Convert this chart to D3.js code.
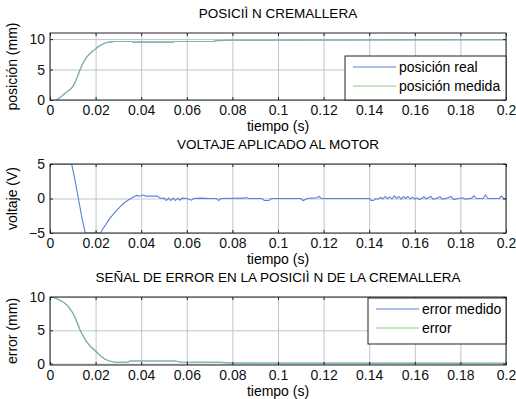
<!DOCTYPE html>
<html>
<head>
<meta charset="utf-8">
<script src="https://cdn.jsdelivr.net/npm/d3@7"></script>
<style>
  body { margin: 0; background: #fff; }
  svg { font-family: "Liberation Sans", Arial, sans-serif; }
  .grid line { stroke: #bcc6ce; stroke-width: 1; }
  .grid path { display: none; }
  .ax path { display: none; }
  .ax line { stroke: #222; }
  .ax text { font-size: 14px; fill: #111; }
</style>
</head>
<body>
<svg width="516" height="399"></svg>
<script>
// time axis
const xTicks = [0, 0.02, 0.04, 0.06, 0.08, 0.1, 0.12, 0.14, 0.16, 0.18, 0.2];

// posicion (mm)
const posT = [0, 0.001, 0.002, 0.003, 0.004, 0.005, 0.006, 0.007, 0.008, 0.009, 0.010,
  0.011, 0.012, 0.013, 0.014, 0.015, 0.016, 0.017, 0.018, 0.019, 0.020, 0.021, 0.022,
  0.023, 0.024, 0.025, 0.026, 0.027, 0.028, 0.036, 0.0365, 0.054, 0.0545, 0.072, 0.0725,
  0.08, 0.14, 0.2];
const posReal = [0, -0.2, -0.2, 0.0, 0.3, 0.6, 0.9, 1.2, 1.5, 1.8, 2.2,
  2.9, 3.8, 4.8, 5.7, 6.4, 7.0, 7.4, 7.8, 8.1, 8.4, 8.7, 8.95,
  9.15, 9.3, 9.45, 9.5, 9.55, 9.6, 9.6, 9.5, 9.5, 9.6, 9.6, 9.75,
  9.8, 9.85, 9.9];
const posMedida = [0, -0.2, -0.2, 0.0, 0.3, 0.6, 0.9, 1.2, 1.5, 1.8, 2.2,
  2.9, 3.8, 4.8, 5.7, 6.4, 7.0, 7.4, 7.8, 8.1, 8.4, 8.7, 8.95,
  9.15, 9.3, 9.45, 9.5, 9.55, 9.6, 9.6, 9.5, 9.5, 9.6, 9.6, 9.75,
  9.8, 9.85, 9.9];

// voltaje (V)
const voltT = [0, 0.0095, 0.010, 0.011, 0.012, 0.013, 0.014, 0.015, 0.0155, 0.0222,
  0.023, 0.024, 0.025, 0.026, 0.027, 0.028, 0.029, 0.030, 0.031, 0.032, 0.033, 0.034,
  0.035, 0.036, 0.037, 0.038, 0.039, 0.040, 0.041, 0.042, 0.044, 0.047, 0.048, 0.049,
  0.050, 0.051, 0.052, 0.053, 0.054, 0.055, 0.056, 0.057, 0.058, 0.060, 0.062, 0.063,
  0.066, 0.070, 0.073, 0.074, 0.075, 0.085, 0.086, 0.087, 0.093, 0.094, 0.096, 0.097,
  0.110, 0.111, 0.113, 0.115, 0.117, 0.118, 0.119, 0.140, 0.141, 0.142, 0.143, 0.144,
  0.145, 0.146, 0.147, 0.148, 0.149, 0.150, 0.151, 0.152, 0.153, 0.154, 0.155, 0.156,
  0.157, 0.158, 0.159, 0.160, 0.161, 0.162, 0.163, 0.164, 0.165, 0.167, 0.168, 0.170,
  0.171, 0.172, 0.174, 0.176, 0.177, 0.179, 0.181, 0.182, 0.185, 0.186, 0.187, 0.190,
  0.191, 0.192, 0.197, 0.198, 0.199, 0.2];
const voltV = [5, 5, 4.2, 2.6, 0.8, -1.0, -2.8, -4.3, -5, -5,
  -4.5, -4.0, -3.5, -3.0, -2.6, -2.2, -1.8, -1.45, -1.1, -0.8, -0.55, -0.3,
  -0.1, 0.1, 0.3, 0.45, 0.35, 0.4, 0.5, 0.35, 0.35, 0.35, 0.1, 0.0,
  0.05, -0.3, 0.05, -0.3, 0.05, -0.3, 0.05, -0.25, 0.05, 0, -0.25, 0,
  0.05, 0, 0, -0.3, 0, 0.05, 0.15, 0, 0, -0.3, -0.3, 0,
  0, -0.3, 0, 0.05, 0.1, 0.3, 0, 0, -0.3, -0.25, 0, -0.1,
  0.15, -0.05, 0.3, 0, 0.2, -0.05, 0.4, 0.05, 0.3, -0.1, 0.3, 0,
  0.3, -0.05, 0.2, -0.1, 0.1, -0.15, 0, 0.25, -0.05, 0.3, -0.1, 0.05,
  0.3, -0.1, 0.05, 0.3, -0.15, 0, 0.1, -0.1, 0.05, 0.4, 0, 0,
  0.5, 0, 0, 0.35, 0, 0];

// error (mm)
const errT = [0, 0.002, 0.004, 0.006, 0.008, 0.010, 0.011, 0.012, 0.013, 0.014, 0.015,
  0.016, 0.018, 0.020, 0.022, 0.024, 0.026, 0.028, 0.030, 0.034, 0.035, 0.055, 0.057,
  0.075, 0.08, 0.2];
const errMedido = [10, 9.9, 9.6, 9.2, 8.6, 7.6, 6.9, 6.1, 5.2, 4.5, 3.9,
  3.3, 2.5, 1.9, 1.2, 0.7, 0.4, 0.25, 0.2, 0.2, 0.4, 0.4, 0.25,
  0.2, 0.1, 0.05];
const errReal = [10, 9.9, 9.6, 9.2, 8.6, 7.6, 6.9, 6.1, 5.2, 4.5, 3.9,
  3.3, 2.5, 1.9, 1.2, 0.7, 0.4, 0.25, 0.2, 0.2, 0.4, 0.4, 0.25,
  0.2, 0.1, 0.05];

const blue = "#5b7fd8", green = "#8cc98c";
const svg = d3.select("svg");
const x = d3.scaleLinear().domain([0, 0.2]).range([50, 506]);

function panel(cfg) {
  const y = d3.scaleLinear().domain(cfg.domain).range([cfg.bottom, cfg.top]);
  const g = svg.append("g");
  const h = cfg.bottom - cfg.top;

  // grid
  g.append("g").attr("class", "grid")
    .attr("transform", `translate(0,${cfg.bottom})`)
    .call(d3.axisBottom(x).tickValues(xTicks).tickSize(-h).tickFormat(""));
  g.append("g").attr("class", "grid")
    .attr("transform", "translate(50,0)")
    .call(d3.axisLeft(y).tickValues(cfg.yTicks).tickSize(-456).tickFormat(""));

  // series
  const clipId = "clip" + cfg.top;
  g.append("clipPath").attr("id", clipId).append("rect")
    .attr("x", 50).attr("y", cfg.top).attr("width", 456).attr("height", h);
  cfg.series.forEach(s => {
    const line = d3.line().x((d, i) => x(cfg.t[i])).y(d => y(d));
    g.append("path").datum(s.values)
      .attr("clip-path", `url(#${clipId})`)
      .attr("fill", "none").attr("stroke", s.color)
      .attr("stroke-width", 1.1).attr("opacity", s.opacity || 1)
      .attr("d", line);
  });

  // ticks inside on every side
  g.append("g").attr("class", "ax")
    .attr("transform", `translate(0,${cfg.bottom})`)
    .call(d3.axisBottom(x).tickValues(xTicks).tickSizeInner(-3).tickPadding(5)
      .tickFormat(d => d === 0 ? "0" : d3.format("")(+d.toFixed(2))));
  g.append("g").attr("class", "ax")
    .attr("transform", `translate(0,${cfg.top})`)
    .call(d3.axisTop(x).tickValues(xTicks).tickSizeInner(-3).tickFormat(""));
  g.append("g").attr("class", "ax")
    .attr("transform", "translate(50,0)")
    .call(d3.axisLeft(y).tickValues(cfg.yTicks).tickSizeInner(-3).tickPadding(5));
  g.append("g").attr("class", "ax")
    .attr("transform", "translate(506,0)")
    .call(d3.axisRight(y).tickValues(cfg.yTicks).tickSizeInner(-3).tickFormat(""));

  g.append("rect").attr("x", 50).attr("y", cfg.top).attr("width", 456).attr("height", h)
    .attr("fill", "none").attr("stroke", "#222").attr("stroke-width", 1);

  g.append("text").attr("x", 278).attr("y", cfg.top - 15)
    .attr("text-anchor", "middle").attr("font-size", 13.5).text(cfg.title);
  g.append("text").attr("x", 278).attr("y", cfg.bottom + 31)
    .attr("text-anchor", "middle").attr("font-size", 14).text("tiempo (s)");
  g.append("text")
    .attr("transform", `translate(17,${(cfg.top + cfg.bottom) / 2}) rotate(-90)`)
    .attr("text-anchor", "middle").attr("font-size", 14).text(cfg.ylabel);

  if (cfg.legend) {
    const L = cfg.legend;
    g.append("rect").attr("x", L.x).attr("y", L.y).attr("width", 506 - L.x).attr("height", L.h)
      .attr("fill", "#fff").attr("stroke", "#222");
    cfg.series.forEach((s, i) => {
      const yy = L.y + 11 + i * 19;
      g.append("line").attr("x1", L.x + 8).attr("x2", L.x + 51)
        .attr("y1", yy).attr("y2", yy).attr("stroke", s.color);
      g.append("text").attr("x", L.x + 54).attr("y", yy + 5)
        .attr("font-size", 14).text(s.name);
    });
  }
}

panel({
  title: "POSICIÌ N CREMALLERA", ylabel: "posición (mm)",
  top: 33, bottom: 100, domain: [0, 11], yTicks: [0, 5, 10], t: posT,
  series: [
    { name: "posición real", values: posReal, color: blue },
    { name: "posición medida", values: posMedida, color: green, opacity: 0.75 }
  ],
  legend: { x: 345, y: 56, h: 44 }
});

panel({
  title: "VOLTAJE APLICADO AL MOTOR", ylabel: "voltaje (V)",
  top: 164, bottom: 233, domain: [-5, 5], yTicks: [-5, 0, 5], t: voltT,
  series: [{ name: "voltaje", values: voltV, color: blue }]
});

panel({
  title: "SEÑAL DE ERROR EN LA POSICIÌ N DE LA CREMALLERA", ylabel: "error (mm)",
  top: 297, bottom: 365, domain: [-0.2, 10], yTicks: [0, 5, 10], t: errT,
  series: [
    { name: "error medido", values: errMedido, color: blue },
    { name: "error", values: errReal, color: green, opacity: 0.75 }
  ],
  legend: { x: 368, y: 298, h: 46 }
});
</script>
</body>
</html>
